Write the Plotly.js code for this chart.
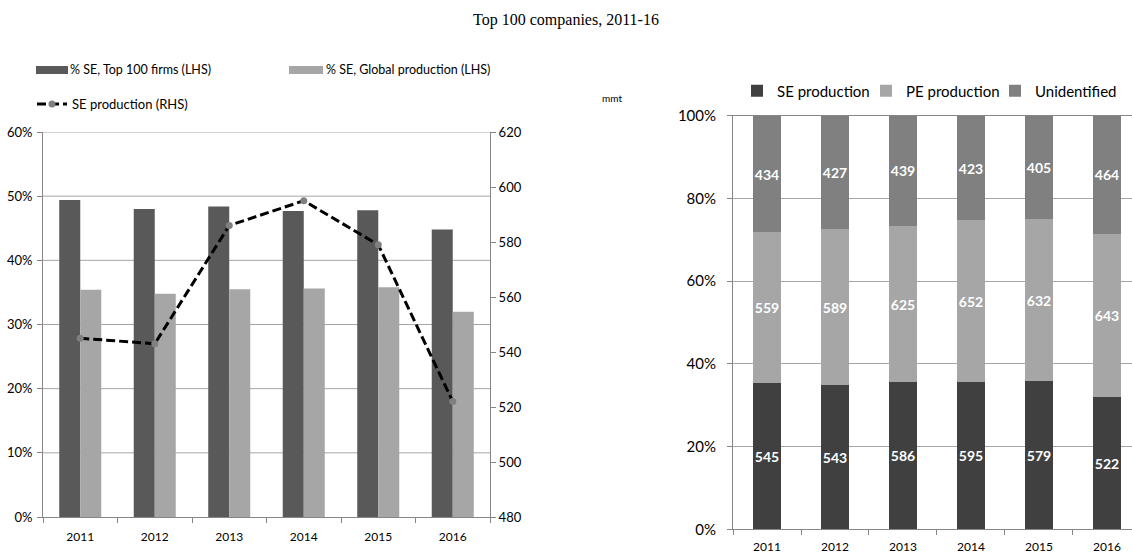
<!DOCTYPE html>
<html>
<head>
<meta charset="utf-8">
<script src="https://cdn.plot.ly/plotly-3.0.1.min.js"></script>
<style>
  html, body { margin: 0; padding: 0; background: #ffffff; }
  #wrap { position: relative; width: 1132px; height: 557px; overflow: hidden; background: #ffffff; }
  #left { position: absolute; left: 0; top: 0; width: 640px; height: 557px; }
  #right { position: absolute; left: 640px; top: 0; width: 492px; height: 557px; }
  .lbl { position: absolute; z-index: 10; color: #000000; white-space: nowrap;
         font-family: Lato, "Open Sans", sans-serif; }
  .swatch { position: absolute; z-index: 10; }
  #title { left: 0; top: 10px; width: 1132px; text-align: center; line-height: 20px;
           font-family: "Liberation Serif", "Times New Roman", serif; font-size: 16px; }
  .leg { top: 62px; font-size: 12.5px; line-height: 16px; }
  #mmt { left: 597px; top: 92px; width: 30px; text-align: center; font-size: 10px; line-height: 12px; }
</style>
</head>
<body>
<div id="wrap">
  <div id="left"></div>
  <div id="right"></div>
  <div id="title" class="lbl">Top 100 companies, 2011-16</div>
  <div class="swatch" style="left:36px;top:66px;width:32px;height:8px;background:#595959"></div>
  <div class="lbl leg" style="left:70px">% SE, Top 100 firms (LHS)</div>
  <div class="swatch" style="left:289px;top:66px;width:34px;height:8px;background:#a6a6a6"></div>
  <div class="lbl leg" style="left:326px">% SE, Global production (LHS)</div>
  <div id="mmt" class="lbl">mmt</div>
</div>
<script>
// Years shown on both panels
const years = ['2011', '2012', '2013', '2014', '2015', '2016'];

// Left panel: SE share (%) and SE production (mmt)
const shareTop100 = [49.4, 48.0, 48.4, 47.7, 47.8, 44.8];
const shareGlobal = [35.4, 34.8, 35.5, 35.6, 35.8, 32.0];
const seProduction = [545, 543, 586, 595, 579, 522];

// Right panel: production split (mmt), stacked to 100%
const peProduction = [559, 589, 625, 652, 632, 643];
const unidentified = [434, 427, 439, 423, 405, 464];

// Tick labels
const pctTicks = [0, 10, 20, 30, 40, 50, 60];
const pctTickText = ['0%', '10%', '20%', '30%', '40%', '50%', '60%'];
const mmtTicks = [480, 500, 520, 540, 560, 580, 600, 620];

const H = 557;
const LW = 640, RW = 492, R0 = 640;
const fxL = p => p / LW;            // left panel, page pixels -> paper
const fxR = p => (p - R0) / RW;     // right panel, page pixels -> paper
const fy = p => 1 - p / H;

const FONT = 'Lato, "Open Sans", sans-serif';
const AXIS_GREY = '#868686';
const GRID_GREY = '#a6a6a6';

// ---------- left panel ----------
const leftTraces = [
  {
    type: 'bar', x: years, y: shareTop100, name: '% SE, Top 100 firms (LHS)',
    marker: { color: '#595959' }, showlegend: false
  },
  {
    type: 'bar', x: years, y: shareGlobal, name: '% SE, Global production (LHS)',
    marker: { color: '#a6a6a6' }, showlegend: false
  },
  {
    type: 'scatter', mode: 'lines+markers', x: years, y: seProduction,
    name: 'SE production (RHS)', yaxis: 'y2',
    line: { color: '#000000', width: 3, dash: '9px,4px' },
    marker: { color: '#808080', size: 7 }
  }
];

// Horizontal gridlines of the left panel, one per percentage tick (above 0%)
const leftGrid = pctTicks.filter(v => v > 0).map(v => ({
  type: 'line', xref: 'x domain', yref: 'y', x0: 0, x1: 1, y0: v, y1: v,
  layer: 'below', line: { color: GRID_GREY, width: 1 }
}));

const leftLayout = {
  width: LW, height: H,
  margin: { l: 0, r: 0, t: 0, b: 0 },
  paper_bgcolor: '#ffffff', plot_bgcolor: 'rgba(0,0,0,0)',
  font: { family: FONT, color: '#000000' },
  barmode: 'group', bargap: 0.436, bargroupgap: 0,
  showlegend: true,
  legend: {
    orientation: 'h', x: fxL(32), xanchor: 'left', y: fy(104), yanchor: 'middle',
    font: { family: FONT, size: 13, color: '#000000' },
    bgcolor: 'rgba(0,0,0,0)', borderwidth: 0
  },
  xaxis: {
    domain: [fxL(43), fxL(490)], type: 'category', anchor: 'y',
    tickson: 'boundaries', ticks: 'outside', ticklen: 5, tickcolor: AXIS_GREY,
    showline: true, linecolor: AXIS_GREY, linewidth: 1, showgrid: false,
    tickfont: { family: FONT, size: 12, color: '#000000' }, ticklabelstandoff: 9
  },
  yaxis: {
    domain: [fy(517), fy(132)], range: [0, 60],
    tickmode: 'array', tickvals: pctTicks, ticktext: pctTickText,
    showgrid: false, zeroline: false,
    showline: true, linecolor: AXIS_GREY, ticks: 'outside', ticklen: 5, tickcolor: AXIS_GREY,
    tickfont: { family: FONT, size: 13, color: '#000000' }, ticklabelstandoff: 2
  },
  yaxis2: {
    overlaying: 'y', side: 'right', anchor: 'x', range: [480, 620],
    tickmode: 'array', tickvals: mmtTicks,
    showgrid: false, zeroline: false, showline: true, linecolor: AXIS_GREY,
    ticks: 'outside', ticklen: 5, tickcolor: AXIS_GREY,
    tickfont: { family: FONT, size: 13, color: '#000000' }
  },
  shapes: leftGrid,
  hovermode: false
};

// ---------- right panel ----------
const labelFont = { family: FONT, size: 14, color: '#ffffff', weight: 700 };
const stackTrace = (vals, name, color) => ({
  type: 'bar', x: years, y: vals, name: name, text: vals,
  texttemplate: '%{text}', textposition: 'inside', insidetextanchor: 'middle',
  textangle: 0, constraintext: 'none', textfont: labelFont,
  marker: { color: color }
});

const rightTraces = [
  stackTrace(seProduction, 'SE production', '#404040'),
  stackTrace(peProduction, 'PE production', '#a6a6a6'),
  stackTrace(unidentified, 'Unidentified', '#808080')
];

const rightLayout = {
  width: RW, height: H,
  margin: { l: 0, r: 0, t: 0, b: 0 },
  paper_bgcolor: '#ffffff', plot_bgcolor: '#ffffff',
  font: { family: FONT, color: '#000000' },
  barmode: 'stack', barnorm: 'percent', bargap: 0.6,
  showlegend: true,
  legend: {
    orientation: 'h', x: fxR(737), xanchor: 'left', y: fy(91), yanchor: 'middle',
    entrywidth: 84, traceorder: 'normal',
    font: { family: FONT, size: 15, color: '#000000' },
    bgcolor: 'rgba(0,0,0,0)', borderwidth: 0
  },
  xaxis: {
    domain: [fxR(733), 1], type: 'category', range: [-0.5, 5.368],
    tickson: 'boundaries', ticks: 'outside', ticklen: 5, tickcolor: AXIS_GREY,
    showline: true, mirror: true, linecolor: AXIS_GREY, showgrid: false,
    tickfont: { family: FONT, size: 12, color: '#000000' }, ticklabelstandoff: 6
  },
  yaxis: {
    domain: [fy(529.3), fy(115.7)], range: [0, 100], dtick: 20, ticksuffix: '%',
    showgrid: true, gridcolor: GRID_GREY, zeroline: false,
    showline: true, linecolor: AXIS_GREY, ticks: 'outside', ticklen: 5, tickcolor: AXIS_GREY,
    tickfont: { family: FONT, size: 15, color: '#000000' }, ticklabelstandoff: 8
  },
  hovermode: false
};

const config = { staticPlot: true, displayModeBar: false };
Plotly.newPlot('left', leftTraces, leftLayout, config);
Plotly.newPlot('right', rightTraces, rightLayout, config);
</script>
</body>
</html>
